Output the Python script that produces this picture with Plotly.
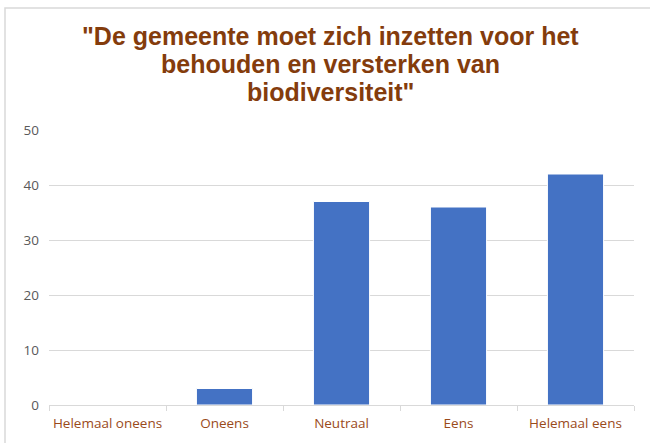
import plotly.graph_objects as go

categories = ["Helemaal oneens", "Oneens", "Neutraal", "Eens", "Helemaal eens"]
values = [0, 3, 37, 36, 42]
y_ticks = [0, 10, 20, 30, 40, 50]

title_lines = [
    '"De gemeente moet zich inzetten voor het',
    "behouden en versterken van",
    'biodiversiteit"',
]

BROWN = "#843C0C"
BAR_BLUE = "#4472C4"

fig = go.Figure(
    go.Bar(
        x=categories,
        y=values,
        marker=dict(color=BAR_BLUE, line=dict(color="#FFFFFF", width=1)),
        width=0.48,
    )
)

W, H = 650, 443
ml, mr, mt, mb = 49, 16, 130, 38
pw = W - ml - mr
ph = H - mt - mb


def px_to_paper_y(py):
    return (H - mb - py) / ph


def px_to_paper_x(px):
    return (px - ml) / pw


# one annotation per title line, spaced 28 px apart
title_annotations = [
    dict(
        text="<b>" + line + "</b>",
        xref="paper",
        yref="paper",
        x=px_to_paper_x(330),
        y=px_to_paper_y(36 + 28 * i),
        xanchor="center",
        yanchor="middle",
        showarrow=False,
        font=dict(family="Liberation Sans, Arial, sans-serif", size=25, color=BROWN),
    )
    for i, line in enumerate(title_lines)
]

fig.update_layout(
    width=W,
    height=H,
    margin=dict(l=ml, r=mr, t=mt, b=mb),
    paper_bgcolor="#FFFFFF",
    plot_bgcolor="#FFFFFF",
    showlegend=False,
    font=dict(family="Open Sans, Liberation Sans, sans-serif"),
    xaxis=dict(
        showline=True,
        linecolor="#D9D9D9",
        linewidth=1,
        ticks="outside",
        tickson="boundaries",
        ticklen=5,
        tickcolor="#D9D9D9",
        tickfont=dict(size=13.5, color="#9A4A1A"),
        tickangle=0,
        ticklabelstandoff=6,
        automargin=False,
        showgrid=False,
    ),
    yaxis=dict(
        range=[0, 50],
        tickvals=y_ticks,
        showgrid=True,
        gridcolor="#D9D9D9",
        gridwidth=1,
        zeroline=False,
        showline=False,
        ticks="",
        ticklen=0,
        tickfont=dict(size=13.5, color="#595959"),
        ticklabelstandoff=9,
        automargin=False,
    ),
    annotations=title_annotations,
    shapes=[
        dict(
            type="rect",
            xref="paper",
            yref="paper",
            x0=px_to_paper_x(5),
            x1=px_to_paper_x(W + 5),
            y0=px_to_paper_y(H + 5),
            y1=px_to_paper_y(8),
            line=dict(color="#D9D9D9", width=1.5),
            fillcolor="rgba(0,0,0,0)",
            layer="below",
        )
    ],
)

fig.write_html("out.html")
